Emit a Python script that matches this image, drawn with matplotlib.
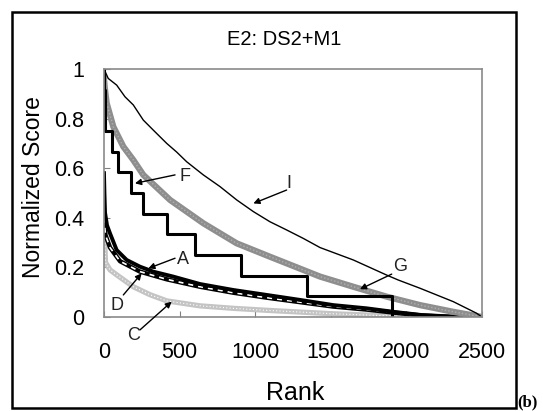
import numpy as np
import matplotlib
matplotlib.use('Agg')
import matplotlib.pyplot as plt
from matplotlib.patches import Rectangle

plt.rcParams['font.family'] = ['Liberation Sans', 'DejaVu Sans']

# curve I (thin black)
rank_i = [0, 28, 84, 139, 194, 260, 337, 415, 481, 547, 657, 767, 878, 988,
          1098, 1208, 1318, 1429, 1649, 1870, 1947, 2090, 2310, 2465, 2500]
score_i = [1.0, 0.962, 0.935, 0.888, 0.855, 0.794, 0.747, 0.70, 0.665, 0.626,
           0.573, 0.526, 0.472, 0.425, 0.384, 0.351, 0.317, 0.28, 0.23, 0.169,
           0.149, 0.116, 0.062, 0.015, 0.0]

# curve G (thick grey)
rank_g = [0, 7, 18, 62, 128, 194, 260, 437, 657, 878, 1098, 1429, 1649, 1870,
          2090, 2310, 2465, 2500]
score_g = [0.96, 0.915, 0.862, 0.767, 0.687, 0.633, 0.573, 0.472, 0.378, 0.297,
           0.243, 0.163, 0.122, 0.082, 0.048, 0.021, 0.004, 0.0]

# curve F (step), level holds up to the rank given with it
rank_f = [0, 4, 10, 50, 93, 179, 256, 415, 600, 905, 1340, 1903, 1903]
score_f = [1.0, 0.917, 0.833, 0.75, 0.667, 0.583, 0.5, 0.417, 0.333, 0.25,
           0.167, 0.083, 0.0]

# curve A (thick black)
rank_a = [0, 3, 7, 20, 40, 84, 150, 238, 326, 458, 635, 855, 1076, 1296,
          1517, 1737, 1913, 2100, 2300, 2450]
score_a = [0.58, 0.5, 0.42, 0.37, 0.337, 0.27, 0.23, 0.203, 0.183, 0.163,
           0.133, 0.109, 0.089, 0.069, 0.048, 0.035, 0.021, 0.008, 0.002, 0.0]

# curve D (outlined)
rank_d = [0, 10, 40, 106, 238, 415, 635, 855, 1076, 1296, 1517, 1737, 1913,
          2100, 2300]
score_d = [0.40, 0.33, 0.28, 0.225, 0.183, 0.152, 0.122, 0.098, 0.078, 0.06,
           0.042, 0.03, 0.018, 0.006, 0.0]

# curve C (light grey)
rank_c = [0, 5, 10, 40, 84, 194, 304, 415, 635, 855, 1076, 1517, 1958, 2100]
score_c = [0.42, 0.3, 0.22, 0.19, 0.17, 0.122, 0.09, 0.065, 0.045, 0.035,
           0.027, 0.013, 0.003, 0.0]

xticks = [0, 500, 1000, 1500, 2000, 2500]
yticks = [0, 0.2, 0.4, 0.6, 0.8, 1]
ytick_labels = ['0', '0.2', '0.4', '0.6', '0.8', '1']

fig = plt.figure(figsize=(5.43, 4.11), dpi=100)
ax = fig.add_axes([0.1915, 0.2287, 0.6961, 0.6034])

ax.plot(rank_c, score_c, color='#c4c4c4', lw=3.8, solid_capstyle='butt')
ax.plot(rank_c, score_c, color='white', lw=0.8, ls=(0, (1, 2)))
ax.plot(rank_d, score_d, color='black', lw=3.2)
ax.plot(rank_d, score_d, color='white', lw=1.2, ls=(0, (3, 3)))
ax.plot(rank_a, score_a, color='black', lw=2.8)
ax.plot(rank_g, score_g, color='#8e8e8e', lw=4.5)
ax.plot(rank_g, score_g, color='#b0b0b0', lw=1, ls=(0, (1, 1.5)))
ax.plot(rank_i, score_i, color='black', lw=1)
ax.plot(rank_f, score_f, color='black', lw=2.2, drawstyle='steps-pre')

ax.set_xlim(0, 2500)
ax.set_ylim(0, 1)
ax.set_xticks(xticks)
ax.set_yticks(yticks)
ax.set_yticklabels(ytick_labels)
ax.tick_params(axis='both', direction='in', length=4, color='#808080',
               labelsize=15.5)
ax.tick_params(axis='x', pad=18)
ax.tick_params(axis='y', pad=14)
for spine in ax.spines.values():
    spine.set_color('#8a8a8a')
    spine.set_linewidth(1.2)

# arrow labels
notes = [('F', (536, 0.566), (470, 0.573), (205, 0.539)),
         ('I', (1225, 0.539), (1208, 0.512), (988, 0.458)),
         ('A', (525, 0.23), (470, 0.237), (293, 0.196)),
         ('D', (84, 0.048), (128, 0.089), (249, 0.176)),
         ('C', (194, -0.075), (238, -0.052), (448, 0.062)),
         ('G', (1958, 0.203), (1903, 0.173), (1693, 0.112))]
for lab, txy, tail, head in notes:
    ax.annotate('', xy=head, xytext=tail, annotation_clip=False,
                arrowprops=dict(arrowstyle='-|>', color='black', lw=1,
                                mutation_scale=9, shrinkA=0, shrinkB=0))
    ax.text(txy[0], txy[1], lab, fontsize=13, color='#222222',
            ha='center', va='center', clip_on=False)

fig.text(0.523, 0.903, 'E2: DS2+M1', fontsize=14.5, ha='center', va='center')
fig.text(0.543, 0.044, 'Rank', fontsize=18, ha='center', va='center')
fig.text(0.061, 0.544, 'Normalized Score', fontsize=16.5, rotation=90,
         ha='center', va='center')
fig.text(0.952, 0.002, '(b)', fontsize=12, fontweight='bold',
         family='Liberation Serif', ha='left', va='bottom')

fig.add_artist(Rectangle((0.022, 0.008), 0.928, 0.963, transform=fig.transFigure,
                         fill=False, edgecolor='black', lw=1.8))

fig.savefig('out.png', dpi=100)
